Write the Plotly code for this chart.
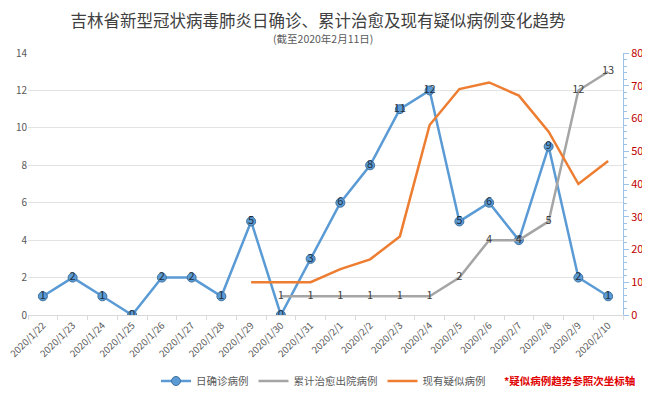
import plotly.graph_objects as go

dates = ["2020/1/22", "2020/1/23", "2020/1/24", "2020/1/25", "2020/1/26", "2020/1/27",
         "2020/1/28", "2020/1/29", "2020/1/30", "2020/1/31", "2020/2/1", "2020/2/2",
         "2020/2/3", "2020/2/4", "2020/2/5", "2020/2/6", "2020/2/7", "2020/2/8",
         "2020/2/9", "2020/2/10"]
daily_confirmed = [1, 2, 1, 0, 2, 2, 1, 5, 0, 3, 6, 8, 11, 12, 5, 6, 4, 9, 2, 1]
cum_cured = [None, None, None, None, None, None, None, None, 1, 1, 1, 1, 1, 1, 2, 4, 4, 5, 12, 13]
suspected = [None, None, None, None, None, None, None, 10, 10, 10, 14, 17, 24, 58, 69, 71, 67, 56, 40, 47]

FONT = "Noto Sans CJK SC, Noto Sans, sans-serif"
BLUE = "#5b9bd5"
GRAY = "#a5a5a5"
ORANGE = "#ed7d31"

# page body has an 8px margin; figure is sized to fit the window
W, H = 642, 391

fig = go.Figure()

fig.add_trace(go.Scatter(
    x=dates, y=daily_confirmed, name="日确诊病例",
    mode="lines+markers+text",
    line=dict(color=BLUE, width=2.5),
    marker=dict(symbol="circle", size=9, color=BLUE, line=dict(color="#41719c", width=1)),
    text=[str(v) for v in daily_confirmed], textposition="middle center",
    textfont=dict(color="#1f2f40", size=11, family=FONT),
))
fig.add_trace(go.Scatter(
    x=dates, y=cum_cured, name="累计治愈出院病例",
    mode="lines+text",
    line=dict(color=GRAY, width=2.5),
    text=["" if v is None else str(v) for v in cum_cured], textposition="middle center",
    textfont=dict(color="#404040", size=11, family=FONT),
))
fig.add_trace(go.Scatter(
    x=dates, y=suspected, name="现有疑似病例",
    mode="lines", yaxis="y2",
    line=dict(color=ORANGE, width=2.5),
))

fig.update_layout(
    width=W, height=H,
    margin=dict(l=20, r=27, t=45, b=84, autoexpand=False),
    paper_bgcolor="white", plot_bgcolor="white",
    font=dict(family=FONT, color="#595959", size=10),
    showlegend=True,
    title=dict(
        text="吉林省新型冠状病毒肺炎日确诊、累计治愈及现有疑似病例变化趋势",
        x=(318 - 8) / W, xanchor="center", y=1 - 13 / H, yanchor="middle",
        font=dict(size=16.5, color="#404040", family=FONT),
    ),
    xaxis=dict(
        type="category", range=[-0.5, 19.5], automargin=False,
        tickson="boundaries", ticks="outside", ticklen=4, tickcolor="#d9d9d9",
        showline=True, linecolor="#d9d9d9", linewidth=1,
        showgrid=False, tickangle=-45,
        tickfont=dict(size=9.6, color="#595959"),
    ),
    yaxis=dict(
        range=[0, 14], dtick=2, showgrid=True, gridcolor="#e3e3e3", gridwidth=1,
        zeroline=False, showline=False, ticks="", automargin=False,
        tickfont=dict(size=10, color="#595959"),
    ),
    yaxis2=dict(
        overlaying="y", side="right", range=[0, 80], dtick=10, automargin=False,
        showgrid=False, zeroline=False,
        showline=True, linecolor="#9dc3e6", linewidth=1,
        ticks="outside", ticklen=5, tickcolor="#9dc3e6",
        minor=dict(dtick=2, ticks="outside", ticklen=3, tickcolor="#9dc3e6"),
        tickfont=dict(size=11, color="#c00000"),
    ),
    legend=dict(
        orientation="h", xref="container", yref="container",
        x=(156 - 8) / W, y=1 - (381 - 8) / H, xanchor="left", yanchor="middle",
        font=dict(size=10.5, color="#595959"), itemwidth=30,
        bgcolor="rgba(0,0,0,0)",
    ),
    annotations=[
        dict(text="(截至2020年2月11日)", xref="paper", yref="paper",
             x=(323 - 28) / 595, y=(315 - 38) / 262, xanchor="center", yanchor="middle",
             showarrow=False, font=dict(size=10.5, color="#595959")),
        dict(text="<b>*疑似病例趋势参照次坐标轴</b>", xref="paper", yref="paper",
             x=(502 - 28) / 595, y=(315 - 381) / 262, xanchor="left", yanchor="middle",
             showarrow=False, font=dict(size=10.5, color="#e00000")),
    ],
)

fig.write_html("out.html")
